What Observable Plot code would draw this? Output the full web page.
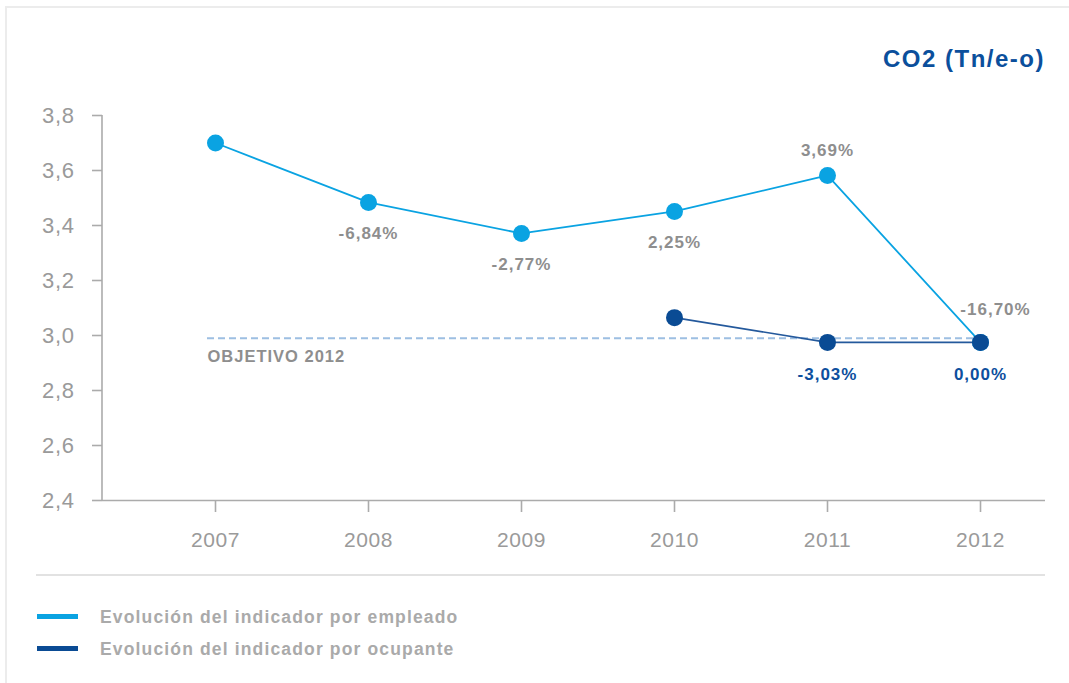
<!DOCTYPE html>
<html>
<head>
<meta charset="utf-8">
<script src="https://cdn.jsdelivr.net/npm/d3@7"></script>
<script src="https://cdn.jsdelivr.net/npm/@observablehq/plot@0.6"></script>
<style>
  html, body { margin: 0; padding: 0; background: #fff; }
  #wrap { position: relative; width: 1069px; height: 683px; overflow: hidden; font-family: "Liberation Sans", Arial, Helvetica, sans-serif; }
  #frame { position: absolute; left: 5px; top: 6px; width: 1200px; height: 800px; border-left: 2px solid #ececec; border-top: 2px solid #ececec; }
  #title { position: absolute; right: 24px; top: 47px; font-size: 24px; line-height: 24px; font-weight: bold; color: #0b4f9c; letter-spacing: 1.5px; white-space: nowrap; }
  #chart { position: absolute; left: 0; top: 0; }
  #sep { position: absolute; left: 36px; top: 574px; width: 1009px; height: 2px; background: #e2e2e2; }
  .leg { position: absolute; left: 37px; height: 18px; }
  .sw { position: absolute; left: 0; top: 6px; width: 41px; height: 5px; }
  .lt { position: absolute; left: 63px; top: 0; font-size: 17.5px; line-height: 18px; font-weight: bold; color: #aaaaaa; letter-spacing: 1.15px; white-space: nowrap; }
  #chart g[aria-label="text"] text { letter-spacing: 1px; }
  #chart g[aria-label="y-axis tick label"] text, #chart g[aria-label="x-axis tick label"] text { letter-spacing: 0.6px; }
</style>
</head>
<body>
<div id="wrap">
  <div id="frame"></div>
  <div id="chart"></div>
  <div id="title">CO2 (Tn/e-o)</div>
  <div id="sep"></div>
  <div id="legend"></div>
</div>
<script>
// ---- data ----
const years = ["2007", "2008", "2009", "2010", "2011", "2012"];
const empleado = [3.70, 3.484, 3.371, 3.451, 3.582, 2.975];
const empleadoLabels = ["", "-6,84%", "-2,77%", "2,25%", "3,69%", "-16,70%"];
const ocupanteYears = ["2010", "2011", "2012"];
const ocupante = [3.065, 2.975, 2.975];
const ocupanteLabels = ["", "-3,03%", "0,00%"];
const objetivo = 2.99;
const objetivoLabel = "OBJETIVO 2012";
const yTicks = [2.4, 2.6, 2.8, 3.0, 3.2, 3.4, 3.6, 3.8];
const seriesNames = ["Evolución del indicador por empleado", "Evolución del indicador por ocupante"];

// ---- styles ----
const cEmp = "#0aa3e2";
const cOcu = "#0a4b94";
const cGray = "#8e8e8e";
const cAxis = "#ababab";

const emp = years.map((y, i) => ({year: y, value: empleado[i], label: empleadoLabels[i]}));
const ocu = ocupanteYears.map((y, i) => ({year: y, value: ocupante[i], label: ocupanteLabels[i]}));
const goal = [{from: years[0], to: years[years.length - 1], value: objetivo, label: objetivoLabel}];

const below = d => ["2008", "2009", "2010"].includes(d.year);

const yAxisLine = (index, scales, values, dims) => {
  const l = document.createElementNS("http://www.w3.org/2000/svg", "line");
  l.setAttribute("x1", dims.marginLeft);
  l.setAttribute("x2", dims.marginLeft);
  l.setAttribute("y1", scales.y(d3.max(yTicks)));
  l.setAttribute("y2", scales.y(d3.min(yTicks)));
  l.setAttribute("stroke", cAxis);
  l.setAttribute("stroke-width", 1.6);
  return l;
};

const plot = Plot.plot({
  width: 1069,
  height: 560,
  marginTop: 115,
  marginBottom: 60,
  marginLeft: 102,
  marginRight: 24,
  style: {fontFamily: "'Liberation Sans', Arial, Helvetica, sans-serif", background: "transparent", overflow: "visible"},
  x: {type: "point", domain: years, range: [215, 980], padding: 0},
  y: {domain: [2.4, 3.8]},
  marks: [
    Plot.axisY({ticks: yTicks, label: null, tickFormat: d => d3.format(".1f")(d).replace(".", ","), tickSize: 10, tickPadding: 18, fontSize: 22, color: "#9a9a9a", stroke: cAxis, strokeWidth: 1.6}),
    Plot.axisX({label: null, tickSize: 12, tickPadding: 20, fontSize: 21, color: "#9a9a9a", stroke: cAxis, strokeWidth: 1.6}),
    Plot.ruleY([d3.min(yTicks)], {stroke: cAxis, strokeWidth: 1.6}),
    yAxisLine,
    Plot.ruleY(goal, {x1: "from", x2: "to", y: "value", insetLeft: -8, stroke: "#9dbfe2", strokeWidth: 2, strokeDasharray: "7,4"}),
    Plot.text(goal, {x: "from", y: "value", text: "label", textAnchor: "start", dx: -8, dy: 18, fontSize: 16.5, fontWeight: "bold", fill: cGray}),
    Plot.line(emp, {x: "year", y: "value", stroke: cEmp, strokeWidth: 1.8}),
    Plot.line(ocu, {x: "year", y: "value", stroke: "#24599c", strokeWidth: 1.6}),
    Plot.dot(emp, {x: "year", y: "value", r: 8.5, fill: cEmp, stroke: "none"}),
    Plot.dot(ocu, {x: "year", y: "value", r: 8.5, fill: cOcu, stroke: "none"}),
    Plot.text(emp.filter(below), {x: "year", y: "value", text: "label", dy: 31, fontSize: 17, fontWeight: "bold", fill: cGray}),
    Plot.text(emp.filter(d => d.year === "2011"), {x: "year", y: "value", text: "label", dy: -25, fontSize: 17, fontWeight: "bold", fill: cGray}),
    Plot.text(emp.filter(d => d.year === "2012"), {x: "year", y: "value", text: "label", dx: 15, dy: -33, fontSize: 17, fontWeight: "bold", fill: cGray}),
    Plot.text(ocu.filter(d => d.label), {x: "year", y: "value", text: "label", dy: 32, fontSize: 17, fontWeight: "bold", fill: "#0d4f9e"})
  ]
});
document.getElementById("chart").appendChild(plot);

// legend
const legend = document.getElementById("legend");
const legColors = [cEmp, cOcu];
const legTops = [608, 640];
seriesNames.forEach((name, i) => {
  const item = document.createElement("div");
  item.className = "leg";
  item.style.top = legTops[i] + "px";
  const sw = document.createElement("div");
  sw.className = "sw";
  sw.style.background = legColors[i];
  const t = document.createElement("div");
  t.className = "lt";
  t.textContent = name;
  item.appendChild(sw);
  item.appendChild(t);
  legend.appendChild(item);
});
</script>
</body>
</html>
